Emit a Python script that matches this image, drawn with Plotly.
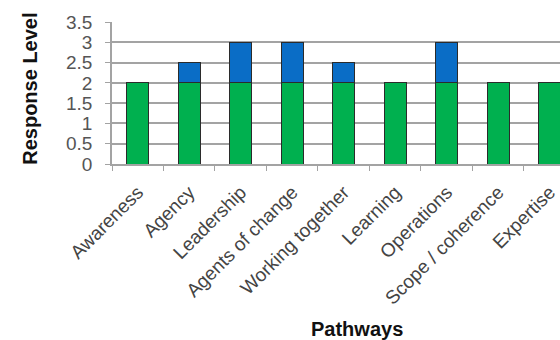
import plotly.graph_objects as go

pathways = ["Awareness", "Agency", "Leadership", "Agents of change",
            "Working together", "Learning", "Operations",
            "Scope / coherence", "Expertise"]
base_level = [2, 2, 2, 2, 2, 2, 2, 2, 2]
extra_level = [0, 0.5, 1, 1, 0.5, 0, 1, 0, 0]
y_ticks = [0, 0.5, 1, 1.5, 2, 2.5, 3, 3.5]
y_tick_text = ["0", "0.5", "1", "1.5", "2", "2.5", "3", "3.5"]

GREEN = "#00B04F"
BLUE = "#0A6DC6"
EDGE = "#2b2b2b"
GRID = "#a3a3a3"
FONT = "Liberation Sans, Arial, sans-serif"

fig = go.Figure()
fig.add_trace(go.Bar(
    x=pathways, y=base_level, marker=dict(color=GREEN, line=dict(color=EDGE, width=1)),
    width=0.42, showlegend=False,
))
fig.add_trace(go.Bar(
    x=pathways, y=[v if v else None for v in extra_level],
    marker=dict(color=BLUE, line=dict(color=EDGE, width=1)),
    width=0.42, showlegend=False,
))

fig.update_layout(
    barmode="stack",
    width=560, height=340,
    margin=dict(l=112, r=0, t=22, b=176),
    paper_bgcolor="white", plot_bgcolor="white",
    font=dict(family=FONT, color="#4a4a4a"),
    xaxis=dict(
        type="category", range=[-0.5, 8.2],
        tickangle=-45, tickfont=dict(size=19, color="#444"),
        ticklabelstandoff=8,
        showline=True, linecolor=GRID, linewidth=1.5,
        ticks="outside", tickson="boundaries", ticklen=5, tickcolor=GRID,
        showgrid=False,
    ),
    yaxis=dict(
        range=[0, 3.5], tickvals=y_ticks, ticktext=y_tick_text,
        tickfont=dict(size=19, color="#555"),
        ticklabelstandoff=9,
        showline=True, linecolor=GRID, linewidth=1.5,
        ticks="outside", ticklen=5, tickcolor=GRID,
        showgrid=True, gridcolor=GRID, gridwidth=1.5,
        zeroline=False,
    ),
    annotations=[
        dict(text="<b>Response Level</b>", textangle=-90, showarrow=False,
             xref="paper", yref="paper", x=-0.183, y=0.53,
             xanchor="center", yanchor="middle",
             font=dict(family=FONT, size=20, color="#111")),
        dict(text="<b>Pathways</b>", showarrow=False,
             xref="paper", yref="paper", x=0.547, y=-1.159,
             xanchor="center", yanchor="middle",
             font=dict(family=FONT, size=20, color="#111")),
    ],
)

fig.write_html("out.html")
